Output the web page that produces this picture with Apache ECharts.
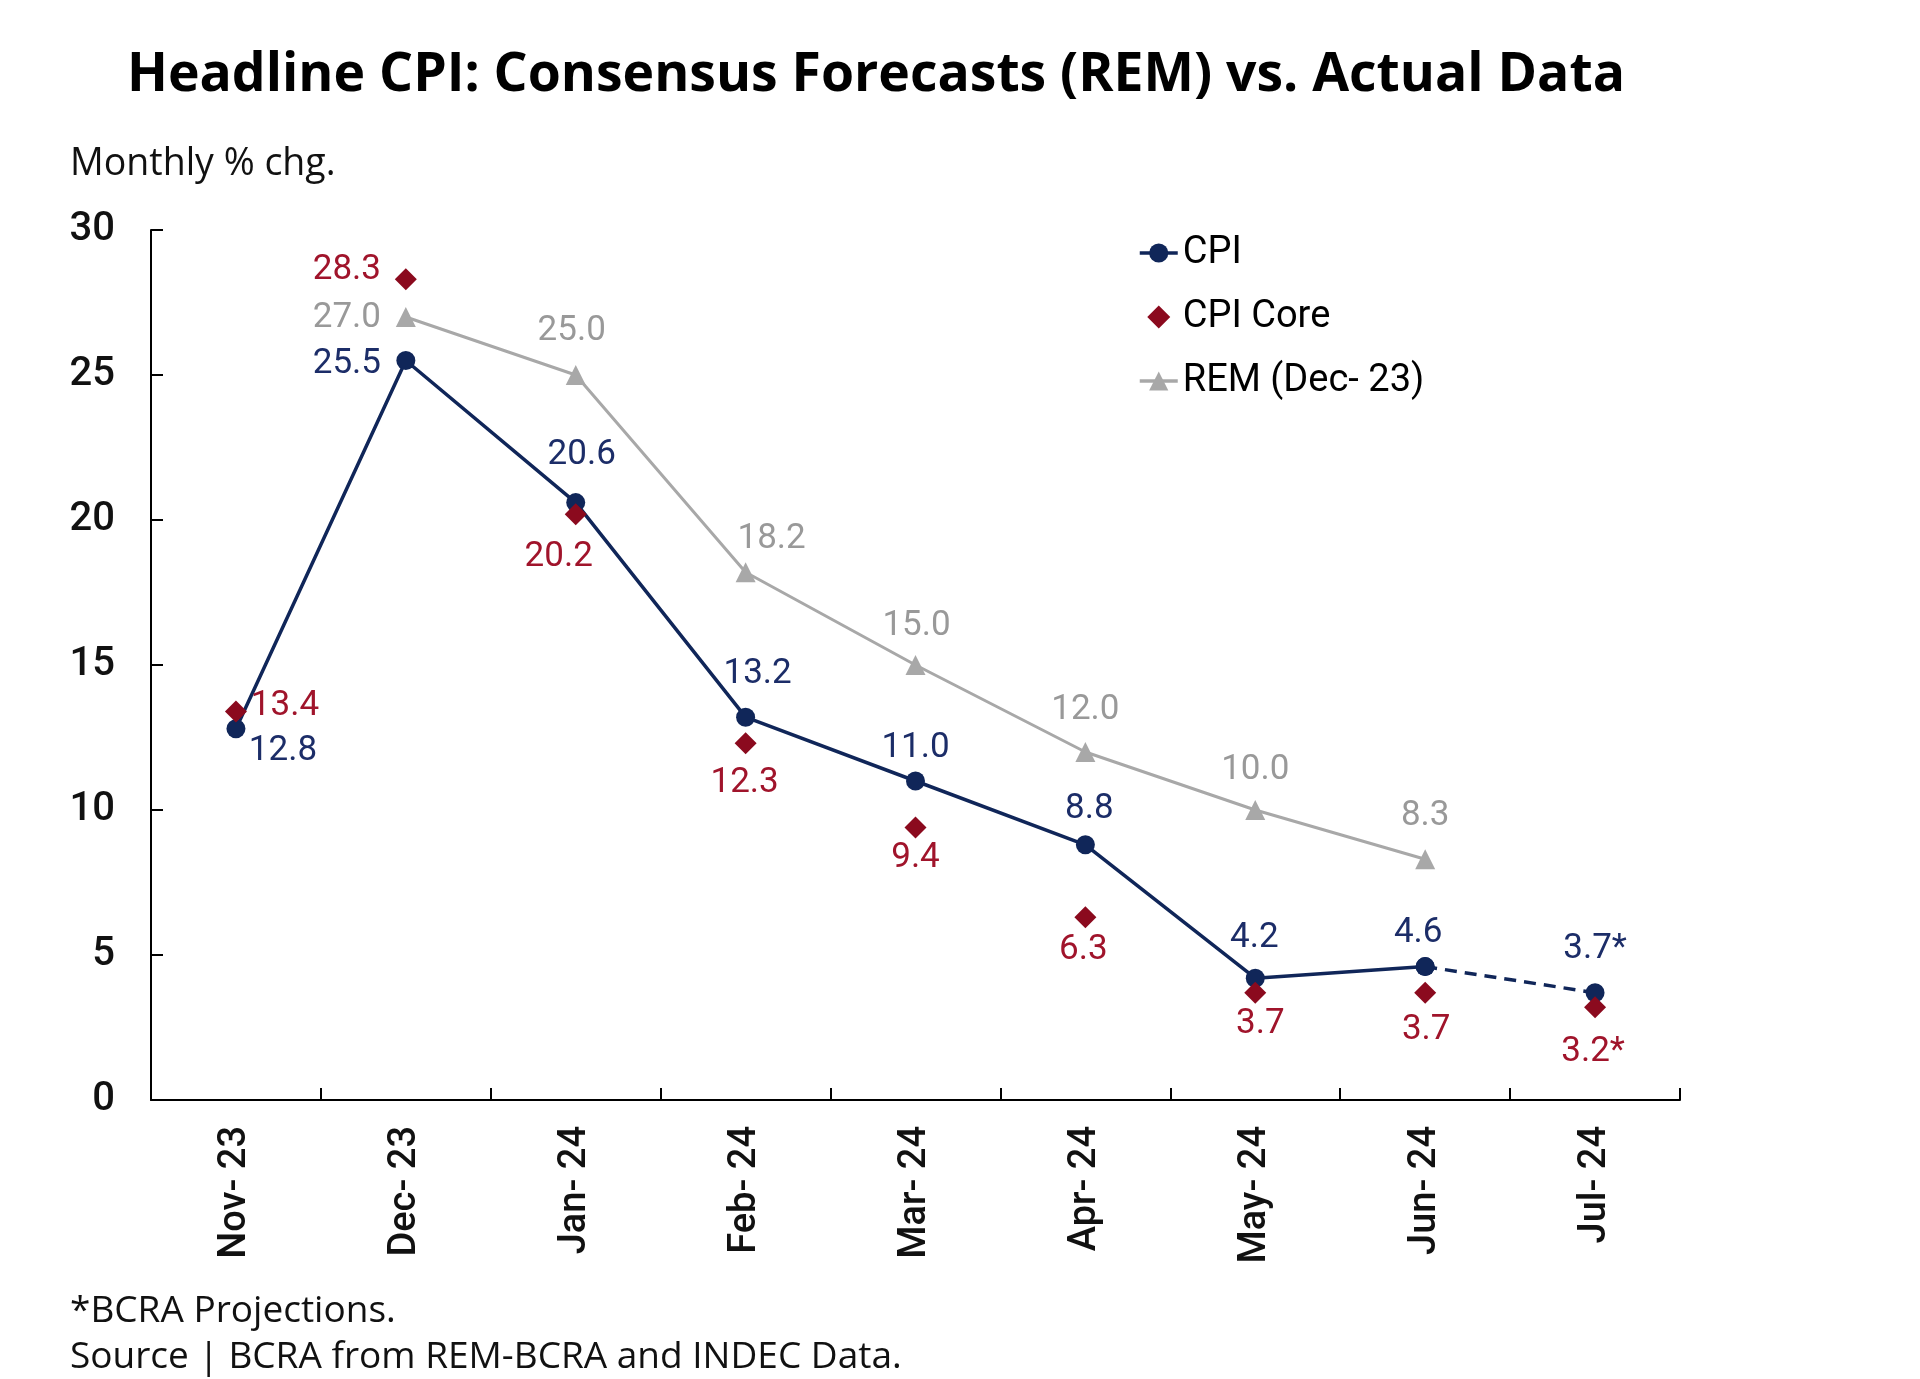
<!DOCTYPE html>
<html><head><meta charset="utf-8">
<script src="https://cdn.jsdelivr.net/npm/echarts@6/dist/echarts.min.js"></script>
<style>html,body{margin:0;padding:0;background:#fff}#c{width:1920px;height:1379px}</style>
</head><body><div id="c"></div>
<script>
const categories = ['Nov-23','Dec-23','Jan-24','Feb-24','Mar-24','Apr-24','May-24','Jun-24','Jul-24'];
const cpiActual = [12.8, 25.5, 20.6, 13.2, 11.0, 8.8, 4.2, 4.6, null];
const cpiProjected = [null, null, null, null, null, null, null, 4.6, 3.7];
const cpiCore = [13.4, 28.3, 20.2, 12.3, 9.4, 6.3, 3.7, 3.7, 3.2];
const remDec23 = [null, 27.0, 25.0, 18.2, 15.0, 12.0, 10.0, 8.3, null];
const projectedFlag = [false, false, false, false, false, false, false, false, true];
const yTicks = [0, 5, 10, 15, 20, 25, 30];

// label placement (styling only)
const cpiLabelOff = [[47,22],[-59,4],[6,-47],[12,-43],[0,-33],[4,-36],[-1,-40],[-7,-33],[0,-43]];
const coreLabelOff = [[49,-5],[-59,-9],[-17,43],[-1,40],[0,31],[-2,33],[5,32],[1,38],[-2,45]];
const remLabelOff = [[0,0],[-59,1],[-4,-44],[26,-33],[1,-39],[0,-42],[0,-40],[0,-43],[0,0]];

const NAVY = '#102659', RED = '#8b0a1e', GRAY = '#a8a8a8';
const LBL_NAVY = '#1c2d68', LBL_RED = '#a0142b', LBL_GRAY = '#999999';
const NUM_FONT = 'Roboto';
const TXT_FONT = "'Open Sans'";

function withLabels(arr, offs, color, skipIdx) {
  return arr.map((v, i) => {
    if (v === null) return null;
    const item = { value: v };
    if (skipIdx && skipIdx(i)) { item.label = { show: false }; return item; }
    item.label = { show: true, position: 'inside', offset: offs[i], color: color };
    return item;
  });
}
const fmt = p => p.value.toFixed(1) + (projectedFlag[p.dataIndex] ? '*' : '');
const lblBase = { fontFamily: NUM_FONT, fontSize: 35, formatter: fmt };

const chart = echarts.init(document.getElementById('c'), null, { renderer: 'canvas' });
chart.setOption({
  animation: false,
  backgroundColor: '#fff',
  title: {
    text: 'Headline CPI: Consensus Forecasts (REM) vs. Actual Data',
    left: 122, top: 44,
    textStyle: { fontFamily: TXT_FONT, fontWeight: 'bold', fontSize: 53.5, color: '#000' }
  },
  graphic: [
    { type: 'text', left: 70, top: 145, style: { text: 'Monthly % chg.', font: "37.5px 'Open Sans'", fill: '#111' } },
    { type: 'text', left: 70, top: 1293, style: { text: '*BCRA Projections.', font: "37px 'Open Sans'", fill: '#111' } },
    { type: 'text', left: 70, top: 1339, style: { text: 'Source | BCRA from REM-BCRA and INDEC Data.', font: "37px 'Open Sans'", fill: '#111' } }
  ],
  legend: {
    data: [
      { name: 'CPI' },
      { name: 'CPI Core', icon: 'path://M0,0 M24,24 M12,0.5 L23.5,12 L12,23.5 L0.5,12 Z' },
      { name: 'REM (Dec- 23)' }
    ],
    orient: 'vertical', left: 1133, top: 228,
    itemWidth: 38, itemHeight: 24, itemGap: 24, symbolKeepAspect: true,
    lineStyle: { width: 3.5 },
    textStyle: { fontFamily: NUM_FONT, fontSize: 38, color: '#000', lineHeight: 40 }
  },
  grid: { left: 151, right: 240, top: 230, bottom: 279, containLabel: false },
  xAxis: {
    type: 'category', data: categories, boundaryGap: true,
    axisLine: { lineStyle: { color: '#000', width: 2 } },
    axisTick: { show: true, inside: true, length: 12, alignWithLabel: false, lineStyle: { color: '#000', width: 2 } },
    axisLabel: { rotate: 90, margin: 26, fontFamily: NUM_FONT, fontSize: 38, fontWeight: 500, color: '#111', interval: 0,
      formatter: v => v.replace('-', '- ') }
  },
  yAxis: {
    type: 'value', min: yTicks[0], max: yTicks[yTicks.length - 1], interval: 5,
    splitLine: { show: false },
    axisLine: { show: true, lineStyle: { color: '#000', width: 2 } },
    axisTick: { show: true, inside: true, length: 12, lineStyle: { color: '#000', width: 2 } },
    axisLabel: { margin: 36, fontFamily: NUM_FONT, fontSize: 40, color: '#111', fontWeight: 500 }
  },
  series: [
    {
      name: 'REM (Dec- 23)', type: 'line', z: 2,
      data: withLabels(remDec23, remLabelOff, LBL_GRAY),
      symbol: 'triangle', symbolSize: 20,
      itemStyle: { color: GRAY, opacity: 1 }, lineStyle: { color: GRAY, width: 3 },
      label: Object.assign({}, lblBase, { color: LBL_GRAY })
    },
    {
      name: 'CPI', type: 'line', z: 3,
      data: withLabels(cpiActual, cpiLabelOff, LBL_NAVY),
      symbol: 'circle', symbolSize: 19,
      itemStyle: { color: NAVY, opacity: 1 }, lineStyle: { color: NAVY, width: 3.5 },
      label: Object.assign({}, lblBase, { color: LBL_NAVY })
    },
    {
      name: 'CPI proj', type: 'line', z: 3,
      data: withLabels(cpiProjected, cpiLabelOff, LBL_NAVY, i => i < 8),
      symbol: 'circle', symbolSize: 19,
      itemStyle: { color: NAVY, opacity: 1 }, lineStyle: { color: NAVY, width: 3.5, type: [12, 8] },
      label: Object.assign({}, lblBase, { color: LBL_NAVY })
    },
    {
      name: 'CPI Core', type: 'scatter', z: 4,
      data: withLabels(cpiCore, coreLabelOff, LBL_RED),
      symbol: 'diamond', symbolSize: 22,
      itemStyle: { color: RED, opacity: 1 },
      label: Object.assign({}, lblBase, { color: LBL_RED })
    }
  ]
});
</script></body></html>
